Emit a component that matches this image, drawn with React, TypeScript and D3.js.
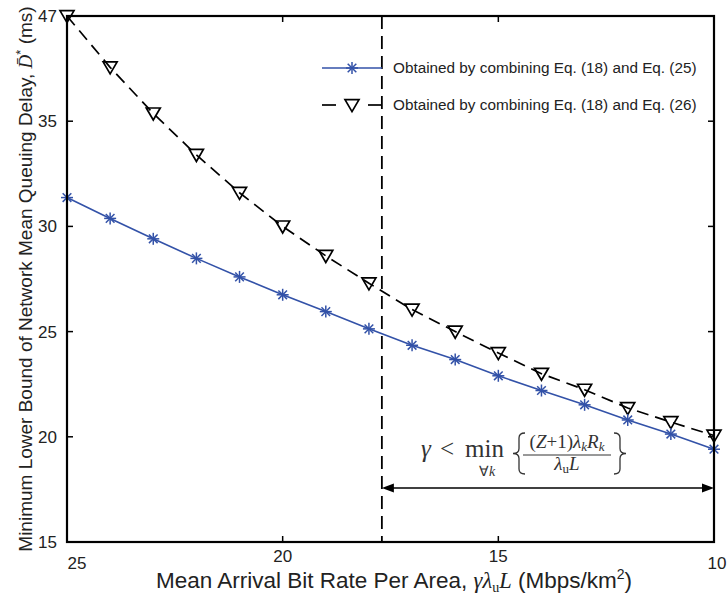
import React from "react";
import * as d3 from "d3";

const xValues = [25, 24, 23, 22, 21, 20, 19, 18, 17, 16, 15, 14, 13, 12, 11, 10];
const blueValues = [31.37, 30.38, 29.41, 28.48, 27.6, 26.75, 25.95, 25.13, 24.35, 23.67, 22.9, 22.2, 21.52, 20.8, 20.13, 19.41];
const blackValues = [40.0, 37.56, 35.37, 33.4, 31.6, 30.0, 28.6, 27.3, 26.05, 25.0, 23.98, 23.0, 22.24, 21.37, 20.7, 20.06];
const xTickValues = [25, 20, 15, 10];
const yTickValues = [15, 20, 25, 30, 35, 40];
const yTickLabels = ["15", "20", "25", "30", "35", "47"];
const thresholdX = 17.7;
const legendLabels = [
  "Obtained by combining Eq. (18) and Eq. (25)",
  "Obtained by combining Eq. (18) and Eq. (26)",
];

const W = 727, H = 601;
const L = 67, R = 714, T = 16, B = 542;
const BLUE = "#3352a8";
const SANS = "'Liberation Sans', Arial, sans-serif";
const SERIF = "'Liberation Serif', 'Times New Roman', serif";

function Star({ x, y, r = 6 }: { x: number; y: number; r?: number }) {
  const d = r * 0.72;
  return (
    <g stroke={BLUE} strokeWidth={1.5}>
      <line x1={x - r} y1={y} x2={x + r} y2={y} />
      <line x1={x} y1={y - r} x2={x} y2={y + r} />
      <line x1={x - d} y1={y - d} x2={x + d} y2={y + d} />
      <line x1={x - d} y1={y + d} x2={x + d} y2={y - d} />
    </g>
  );
}

function Tri({ x, y }: { x: number; y: number }) {
  const w = 7, h = 12;
  const p = `M${x - w},${y - h * 0.45} L${x + w},${y - h * 0.45} L${x},${y + h * 0.55} Z`;
  return <path d={p} fill="none" stroke="#000" strokeWidth={1.7} strokeLinejoin="miter" />;
}

function brace(xc: number, top: number, bot: number, w: number) {
  const mid = (top + bot) / 2;
  return `M${xc + w},${top} Q${xc},${top} ${xc},${top + 5} L${xc},${mid - 5} Q${xc},${mid} ${xc - w},${mid} Q${xc},${mid} ${xc},${mid + 5} L${xc},${bot - 5} Q${xc},${bot} ${xc + w},${bot}`;
}

export default function App() {
  const x = d3.scaleLinear().domain([25, 10]).range([L, R]);
  const y = d3.scaleLinear().domain([15, 40]).range([B, T]);

  const line = d3
    .line<number>()
    .x((_, i) => x(xValues[i]))
    .y((v) => y(v));

  const xt = x(thresholdX);
  const tick = 6;
  const arrowY = 488;

  return (
    <svg width={W} height={H} style={{ position: "absolute", left: 0, top: 0, background: "#fff" }}>
      <rect width={W} height={H} fill="#fff" />
      {/* threshold vertical dashed line */}
      <line x1={xt} y1={T} x2={xt} y2={B} stroke="#000" strokeWidth={1.8} strokeDasharray="13,7" />

      {/* series */}
      <path d={line(blackValues) || ""} fill="none" stroke="#000" strokeWidth={1.7} strokeDasharray="12,7" />
      <path d={line(blueValues) || ""} fill="none" stroke={BLUE} strokeWidth={1.6} />
      {blackValues.map((v, i) => (
        <Tri key={"t" + i} x={x(xValues[i])} y={y(v)} />
      ))}
      {blueValues.map((v, i) => (
        <Star key={"s" + i} x={x(xValues[i])} y={y(v)} />
      ))}

      {/* axes box */}
      <rect x={L} y={T} width={R - L} height={B - T} fill="none" stroke="#000" strokeWidth={2.2} />
      {xTickValues.map((v, i) => {
        const edge = i === 0 || i === xTickValues.length - 1;
        return (
          <g key={"xt" + v}>
            <line x1={x(v)} y1={B} x2={x(v)} y2={B - tick} stroke="#000" strokeWidth={1.5} />
            <line x1={x(v)} y1={T} x2={x(v)} y2={T + tick} stroke="#000" strokeWidth={1.5} />
            <text
              x={x(v) + (i === 0 ? 10 : i === xTickValues.length - 1 ? 3 : 0)}
              y={edge ? 569 : 562}
              fontFamily={SANS}
              fontSize={17}
              fill="#222"
              textAnchor="middle"
            >
              {v}
            </text>
          </g>
        );
      })}
      {yTickValues.map((v, i) => (
        <g key={"yt" + v}>
          <line x1={L} y1={y(v)} x2={L + tick} y2={y(v)} stroke="#000" strokeWidth={1.5} />
          <line x1={R} y1={y(v)} x2={R - tick} y2={y(v)} stroke="#000" strokeWidth={1.5} />
          <text x={57} y={y(v) + 6} fontFamily={SANS} fontSize={17} fill="#222" textAnchor="end">
            {yTickLabels[i]}
          </text>
        </g>
      ))}

      {/* legend */}
      <line x1={322} y1={68} x2={382} y2={68} stroke={BLUE} strokeWidth={1.6} />
      <Star x={352} y={68} />
      <text x={393} y={73} fontFamily={SANS} fontSize={15.3} fill="#222">
        {legendLabels[0]}
      </text>
      <line x1={322} y1={105} x2={336} y2={105} stroke="#000" strokeWidth={1.7} />
      <line x1={368} y1={105} x2={382} y2={105} stroke="#000" strokeWidth={1.7} />
      <Tri x={352} y={105} />
      <text x={393} y={110} fontFamily={SANS} fontSize={15.3} fill="#222">
        {legendLabels[1]}
      </text>

      {/* double arrow */}
      <line x1={xt + 8} y1={arrowY} x2={R - 8} y2={arrowY} stroke="#000" strokeWidth={1.5} />
      <path d={`M${xt},${arrowY} L${xt + 12},${arrowY - 4.5} L${xt + 12},${arrowY + 4.5} Z`} fill="#000" />
      <path d={`M${R},${arrowY} L${R - 12},${arrowY - 4.5} L${R - 12},${arrowY + 4.5} Z`} fill="#000" />

      {/* math annotation */}
      <g fill="#333" fontFamily={SERIF}>
        <text x={421} y={457} fontSize={25} fontStyle="italic">γ</text>
        <text x={440} y={457} fontSize={25}>&lt;</text>
        <text x={465} y={457} fontSize={25}>min</text>
        <text x={487} y={476} fontSize={14} textAnchor="middle">
          ∀<tspan fontStyle="italic">k</tspan>
        </text>
        <path d={brace(519, 433, 474, 6)} fill="none" stroke="#333" strokeWidth={1.3} />
        <text x={567} y={448} fontSize={19} textAnchor="middle">
          (<tspan fontStyle="italic">Z</tspan>+1)<tspan fontStyle="italic">λ</tspan>
          <tspan fontSize={13} fontStyle="italic" dy={3}>k</tspan>
          <tspan fontStyle="italic" dy={-3}>R</tspan>
          <tspan fontSize={13} fontStyle="italic" dy={3}>k</tspan>
        </text>
        <line x1={523} y1={455} x2={611} y2={455} stroke="#333" strokeWidth={1} />
        <text x={567} y={470} fontSize={19} textAnchor="middle">
          <tspan fontStyle="italic">λ</tspan>
          <tspan fontSize={13} dy={3}>u</tspan>
          <tspan fontStyle="italic" dy={-3}>L</tspan>
        </text>
        <path d={brace(620, 433, 474, -6)} fill="none" stroke="#333" strokeWidth={1.3} />
      </g>

      {/* x label */}
      <text x={394} y={588} fontFamily={SANS} fontSize={22.5} fill="#222" textAnchor="middle">
        Mean Arrival Bit Rate Per Area,{" "}
        <tspan fontFamily={SERIF} fontStyle="italic">γλ</tspan>
        <tspan fontFamily={SERIF} fontSize={14} dy={4}>u</tspan>
        <tspan fontFamily={SERIF} fontStyle="italic" dy={-4}>L</tspan> (Mbps/km
        <tspan fontSize={14} dy={-9}>2</tspan>
        <tspan dy={9}>)</tspan>
      </text>

      {/* y label */}
      <text
        transform={`translate(32, 279) rotate(-90)`}
        fontFamily={SANS}
        fontSize={19}
        fill="#222"
        textAnchor="middle"
      >
        Minimum Lower Bound of Network Mean Queuing Delay,{" "}
        <tspan fontFamily={SERIF} fontStyle="italic">D̄</tspan>
        <tspan fontSize={13} dy={-7}>*</tspan>
        <tspan dy={7}> (ms)</tspan>
      </text>
    </svg>
  );
}
